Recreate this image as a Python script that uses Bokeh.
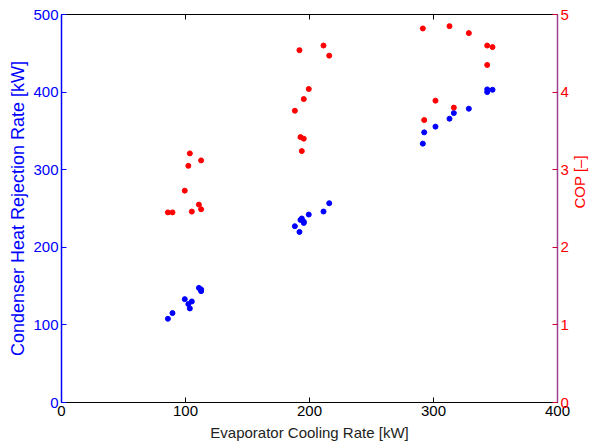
import math
from bokeh.plotting import figure
from bokeh.models import LinearAxis, Range1d, FixedTicker
from bokeh.embed import file_html
from bokeh.resources import INLINE

# Evaporator cooling rate [kW]
evaporator = [85.8, 89.5, 99.4, 102.3, 103.5, 105.1, 110.8, 112.6, 112.6,
              188.2, 191.9, 192.7, 193.8, 195.4, 195.4, 199.4, 211.3, 215.9,
              291.4, 292.5, 301.6, 312.9, 316.4, 328.5, 343.3, 343.3, 347.6]
# Condenser heat rejection rate [kW]
condenser = [107.9, 115.2, 133.2, 126.8, 121.2, 130.2, 147.7, 145.7, 143.5,
             227.2, 219.8, 235.3, 237.1, 231.4, 233.0, 242.2, 246.1, 256.8,
             333.6, 348.1, 355.5, 365.7, 373.0, 378.6, 400.0, 403.5, 403.0]
# COP [-]
cop = [2.45, 2.45, 2.73, 3.05, 3.21, 2.46, 2.55, 3.12, 2.49,
       3.76, 4.54, 3.42, 3.24, 3.91, 3.40, 4.04, 4.60, 4.47,
       4.82, 3.64, 3.89, 4.85, 3.80, 4.76, 4.35, 4.60, 4.58]

x_ticks = [0, 100, 200, 300, 400]
left_ticks = [0, 100, 200, 300, 400, 500]
right_ticks = [0, 1, 2, 3, 4, 5]

FONT = "Liberation Sans"
FRAME_H = 388
Y_MAX = 500

p = figure(frame_width=496, frame_height=FRAME_H, x_range=Range1d(0, 400), y_range=Range1d(0, Y_MAX),
           output_backend="svg", toolbar_location=None,
           min_border_left=0, min_border_right=0, min_border_top=8, min_border_bottom=0)
p.margin = (6, 0, 0, 5)
p.extra_y_ranges = {"cop": Range1d(0, 5)}
p.xgrid.visible = False
p.ygrid.visible = False
p.outline_line_color = "black"
p.outline_line_width = 1
p.background_fill_color = "white"
p.border_fill_color = "white"

# top-border inward ticks (box style)
tick_len = 5 * Y_MAX / FRAME_H
p.segment(x0=x_ticks[1:-1], y0=[Y_MAX] * 3, x1=x_ticks[1:-1], y1=[Y_MAX - tick_len] * 3,
          line_color="black", line_width=1)

p.scatter(evaporator, condenser, color="#0000ff", size=5)
p.scatter(evaporator, cop, color="#ff0000", size=5, y_range_name="cop")

# bottom axis
xa = p.xaxis[0]
xa.ticker = FixedTicker(ticks=x_ticks)
xa.axis_label = "Evaporator Cooling Rate [kW]"
xa.axis_label_text_font = FONT
xa.axis_label_text_font_style = "normal"
xa.axis_label_text_font_size = "15px"
xa.axis_label_text_color = "#222222"
xa.axis_label_standoff = 5
xa.major_label_text_font = FONT
xa.major_label_text_font_size = "15px"
xa.major_label_text_color = "black"
xa.major_label_standoff = 3
xa.axis_line_color = "black"
xa.major_tick_line_color = "black"
xa.major_tick_in = 5
xa.major_tick_out = 0
xa.minor_tick_line_color = None

# left axis
ya = p.yaxis[0]
ya.ticker = FixedTicker(ticks=left_ticks)
ya.axis_label = "Condenser Heat Rejection Rate [kW]"
ya.axis_label_text_font = FONT
ya.axis_label_text_font_style = "normal"
ya.axis_label_text_font_size = "18px"
ya.axis_label_text_color = "#0000ff"
ya.axis_label_standoff = 2
ya.major_label_text_font = FONT
ya.major_label_text_font_size = "15px"
ya.major_label_text_color = "#0000ff"
ya.major_label_standoff = 3
ya.axis_line_color = "#0000ff"
ya.axis_line_width = 1.5
ya.major_tick_line_color = "#0000ff"
ya.major_tick_in = 5
ya.major_tick_out = 0
ya.minor_tick_line_color = None

# right axis (COP)
ra = LinearAxis(y_range_name="cop", ticker=FixedTicker(ticks=right_ticks))
ra.axis_label = "COP [–]"
ra.axis_label_orientation = math.pi / 2
ra.axis_label_text_font = FONT
ra.axis_label_text_font_style = "normal"
ra.axis_label_text_font_size = "15px"
ra.axis_label_text_color = "#ff0000"
ra.axis_label_standoff = 8
ra.major_label_text_font = FONT
ra.major_label_text_font_size = "15px"
ra.major_label_text_color = "#ff0000"
ra.major_label_standoff = 3
ra.axis_line_color = "#a04090"
ra.axis_line_width = 1.5
ra.major_tick_line_color = "#cc0033"
ra.major_tick_in = 5
ra.major_tick_out = 0
ra.minor_tick_line_color = None
p.add_layout(ra, "right")

open("out.html", "w").write(file_html(p, INLINE))
